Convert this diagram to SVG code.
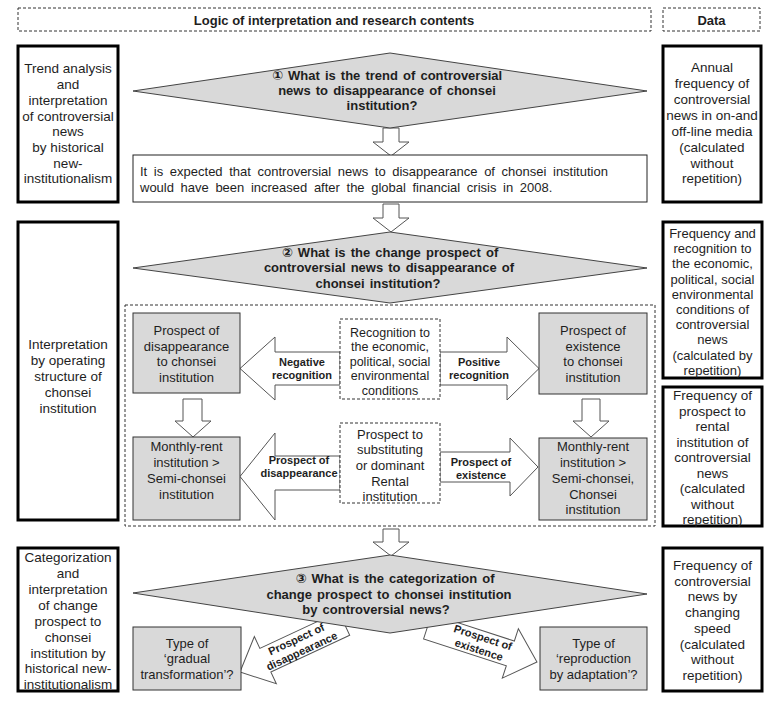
<svg xmlns="http://www.w3.org/2000/svg" width="770" height="702" viewBox="0 0 770 702">
<defs>
<style>
text{font-family:"Liberation Sans","DejaVu Sans",Arial,sans-serif;fill:#1e1e1e;text-anchor:middle}
.hd{font-size:13px;font-weight:bold}
.side{font-size:13.5px}
.side13{font-size:13px}
.box{font-size:13px}
.box2{font-size:12.5px}
.q{font-size:13px;font-weight:bold;word-spacing:1.5px}
.lbl{font-size:11px;font-weight:bold}
.thick{fill:#fff;stroke:#000;stroke-width:3}
.thin{fill:#fff;stroke:#222;stroke-width:1}
.gray{fill:#d9d9d9;stroke:#333;stroke-width:1}
.dash{fill:#fff;stroke:#333;stroke-width:1;stroke-dasharray:3 2}
.dashn{fill:none;stroke:#333;stroke-width:1;stroke-dasharray:3 2}
.dia{fill:#d9d9d9;stroke:#444;stroke-width:1}
.ba{fill:#fff;stroke:#555;stroke-width:1}
</style>
</defs>
<rect x="0" y="0" width="770" height="702" fill="#fff"/>

<g id="header-logic">
<rect class="dash" x="18" y="8" width="633" height="23"/>
<text class="hd" x="334" y="24.5">Logic of interpretation and research contents</text>
</g>
<g id="header-data">
<rect class="dash" x="663" y="8" width="97" height="23"/>
<text class="hd" x="711.5" y="24.5">Data</text>
</g>

<g id="left-1">
<rect class="thick" x="18" y="46" width="100" height="156"/>
<text class="side"><tspan x="68" y="73">Trend analysis</tspan><tspan x="68" y="89">and</tspan><tspan x="68" y="105">interpretation</tspan><tspan x="68" y="120.5">of controversial</tspan><tspan x="68" y="136">news</tspan><tspan x="68" y="152">by historical</tspan><tspan x="68" y="167.5">new-</tspan><tspan x="68" y="183">institutionalism</tspan></text>
</g>
<g id="left-2">
<rect class="thick" x="18" y="222" width="100" height="298"/>
<text class="side"><tspan x="68" y="349">Interpretation</tspan><tspan x="68" y="365">by operating</tspan><tspan x="68" y="381">structure of</tspan><tspan x="68" y="397">chonsei</tspan><tspan x="68" y="413">institution</tspan></text>
</g>
<g id="left-3">
<rect class="thick" x="18" y="548" width="100" height="143"/>
<text class="side"><tspan x="68" y="562">Categorization</tspan><tspan x="68" y="578">and</tspan><tspan x="68" y="594">interpretation</tspan><tspan x="68" y="610">of change</tspan><tspan x="68" y="626">prospect to</tspan><tspan x="68" y="642">chonsei</tspan><tspan x="68" y="657.5">institution by</tspan><tspan x="68" y="673">historical new-</tspan><tspan x="68" y="688.5">institutionalism</tspan></text>
</g>

<g id="right-1">
<rect class="thick" x="663" y="46" width="98" height="156"/>
<text class="side"><tspan x="712" y="72">Annual</tspan><tspan x="712" y="88">frequency of</tspan><tspan x="712" y="104">controversial</tspan><tspan x="712" y="120">news in on-and</tspan><tspan x="712" y="136">off-line media</tspan><tspan x="712" y="152">(calculated</tspan><tspan x="712" y="167.5">without</tspan><tspan x="712" y="183">repetition)</tspan></text>
</g>
<g id="right-2">
<rect class="thick" x="663" y="222" width="99" height="156"/>
<text class="side13"><tspan x="712.5" y="238">Frequency and</tspan><tspan x="712.5" y="253.2">recognition to</tspan><tspan x="712.5" y="268.4">the economic,</tspan><tspan x="712.5" y="283.6">political, social</tspan><tspan x="712.5" y="298.8">environmental</tspan><tspan x="712.5" y="314">conditions of</tspan><tspan x="712.5" y="329.2">controversial</tspan><tspan x="712.5" y="344.4">news</tspan><tspan x="712.5" y="359.6">(calculated by</tspan><tspan x="712.5" y="374.8">repetition)</tspan></text>
</g>
<g id="right-3">
<rect class="thick" x="663" y="387" width="99" height="139"/>
<text class="side"><tspan x="712.5" y="400">Frequency of</tspan><tspan x="712.5" y="415.5">prospect to</tspan><tspan x="712.5" y="431">rental</tspan><tspan x="712.5" y="446.5">institution of</tspan><tspan x="712.5" y="462">controversial</tspan><tspan x="712.5" y="477.5">news</tspan><tspan x="712.5" y="493">(calculated</tspan><tspan x="712.5" y="508.5">without</tspan><tspan x="712.5" y="524">repetition)</tspan></text>
</g>
<g id="right-4">
<rect class="thick" x="663" y="548" width="99" height="143"/>
<text class="side"><tspan x="712.5" y="570">Frequency of</tspan><tspan x="712.5" y="585.7">controversial</tspan><tspan x="712.5" y="601.4">news by</tspan><tspan x="712.5" y="617.1">changing</tspan><tspan x="712.5" y="632.8">speed</tspan><tspan x="712.5" y="648.5">(calculated</tspan><tspan x="712.5" y="664.2">without</tspan><tspan x="712.5" y="680">repetition)</tspan></text>
</g>

<g id="structure-frame">
<rect class="dashn" x="125" y="305" width="530" height="221"/>
</g>

<g id="connectors">
<path class="ba" d="M383,128 H399 V142 H409 L391,156 L373,142 H383 Z"/>
<path class="ba" d="M383,204 H399 V218 H409 L391,232 L373,218 H383 Z"/>
<path class="ba" d="M383,529 H399 V542 H409 L391,556 L373,542 H383 Z"/>
<path class="ba" d="M183,399 H202 V421 H211 L193,437 L175,421 H183 Z"/>
<path class="ba" d="M582,399 H600 V421 H609 L591,437 L573,421 H582 Z"/>
<path class="ba" d="M340,352 H275 V337 L240,368.5 L275,400 V385 H340 Z"/>
<path class="ba" d="M440,352 H507 V337 L539,368.5 L507,400 V385 H440 Z"/>
<path class="ba" d="M340,456 H275 V433 L240,476.5 L275,520 V490 H340 Z"/>
<path class="ba" d="M440,452 H510 V438 L538,467 L510,496 V482 H440 Z"/>
<path class="ba" transform="translate(344.2,623.4) rotate(155)" d="M0,-13 H87 V-26 L115,0 L87,26 V13 H0 Z"/>
<path class="ba" transform="translate(427.6,626.5) rotate(18)" d="M0,-13 H87 V-26 L115,0 L87,26 V13 H0 Z"/>
<text class="lbl"><tspan x="302" y="365.5">Negative</tspan><tspan x="302" y="378.5">recognition</tspan></text>
<text class="lbl"><tspan x="479" y="365.5">Positive</tspan><tspan x="479" y="378.5">recognition</tspan></text>
<text class="lbl"><tspan x="299" y="464">Prospect of</tspan><tspan x="299" y="477">disappearance</tspan></text>
<text class="lbl"><tspan x="481" y="465.5">Prospect of</tspan><tspan x="481" y="478.5">existence</tspan></text>
<text class="lbl" transform="translate(299,645) rotate(-25)"><tspan x="0" y="-2.5">Prospect of</tspan><tspan x="0" y="10.5">disappearance</tspan></text>
<text class="lbl" transform="translate(481,643.5) rotate(18)"><tspan x="0" y="-2.5">Prospect of</tspan><tspan x="0" y="10.5">existence</tspan></text>
</g>

<g id="question-1">
<polygon class="dia" points="133,91 390,53 647,91 390,128"/>
<text class="q"><tspan x="387" y="79.5">① What is the trend of controversial</tspan><tspan x="387" y="94.5">news to disappearance of chonsei</tspan><tspan x="382" y="109.5">institution?</tspan></text>
</g>
<g id="expectation">
<rect class="thin" x="133" y="155" width="514" height="47"/>
<text class="box" style="text-anchor:start;word-spacing:3px"><tspan x="140" y="176">It is expected that controversial news to disappearance of chonsei institution</tspan><tspan x="140" y="191.5">would have been increased after the global financial crisis in 2008.</tspan></text>
</g>
<g id="question-2">
<polygon class="dia" points="133,268 390,232 647,268 390,303"/>
<text class="q"><tspan x="390" y="256.5">② What is the change prospect of</tspan><tspan x="389" y="272">controversial news to disappearance of</tspan><tspan x="378" y="287.5">chonsei institution?</tspan></text>
</g>
<g id="prospect-disappearance">
<rect class="gray" x="133" y="313" width="107" height="80"/>
<text class="box"><tspan x="186.5" y="334.5">Prospect of</tspan><tspan x="186.5" y="350.5">disappearance</tspan><tspan x="186.5" y="366">to chonsei</tspan><tspan x="186.5" y="381.5">institution</tspan></text>
</g>
<g id="recognition">
<rect class="dash" x="340" y="319" width="100" height="80"/>
<text class="box2"><tspan x="390" y="336.5">Recognition to</tspan><tspan x="390" y="351">the economic,</tspan><tspan x="390" y="365.5">political, social</tspan><tspan x="390" y="380">environmental</tspan><tspan x="390" y="394.5">conditions</tspan></text>
</g>
<g id="prospect-existence">
<rect class="gray" x="539" y="313" width="108" height="81"/>
<text class="box"><tspan x="593" y="334.5">Prospect of</tspan><tspan x="593" y="350.5">existence</tspan><tspan x="593" y="366">to chonsei</tspan><tspan x="593" y="381.5">institution</tspan></text>
</g>
<g id="monthly-rent-left">
<rect class="gray" x="133" y="437" width="107" height="83"/>
<text class="box"><tspan x="186.5" y="451">Monthly-rent</tspan><tspan x="186.5" y="467">institution &gt;</tspan><tspan x="186.5" y="483">Semi-chonsei</tspan><tspan x="186.5" y="498.5">institution</tspan></text>
</g>
<g id="substituting">
<rect class="dash" x="340" y="423" width="100" height="80"/>
<text class="box"><tspan x="390" y="438.5">Prospect to</tspan><tspan x="390" y="454">substituting</tspan><tspan x="390" y="469.5">or dominant</tspan><tspan x="390" y="485.5">Rental</tspan><tspan x="390" y="501">institution</tspan></text>
</g>
<g id="monthly-rent-right">
<rect class="gray" x="539" y="438" width="108" height="82"/>
<text class="box"><tspan x="593" y="451">Monthly-rent</tspan><tspan x="593" y="467">institution &gt;</tspan><tspan x="593" y="483">Semi-chonsei,</tspan><tspan x="593" y="498.5">Chonsei</tspan><tspan x="593" y="514">institution</tspan></text>
</g>
<g id="question-3">
<polygon class="dia" points="133,593 390,555 647,594 390,633"/>
<text class="q"><tspan x="395" y="583">③ What is the categorization of</tspan><tspan x="389" y="598.5">change prospect to chonsei institution</tspan><tspan x="376" y="614">by controversial news?</tspan></text>
</g>
<g id="type-gradual">
<rect class="gray" x="133" y="627" width="108" height="63"/>
<text class="box"><tspan x="187" y="647.5">Type of</tspan><tspan x="187" y="663">‘gradual</tspan><tspan x="187" y="678.5">transformation’?</tspan></text>
</g>
<g id="type-reproduction">
<rect class="gray" x="540" y="627" width="107" height="63"/>
<text class="box"><tspan x="593.5" y="647.5">Type of</tspan><tspan x="593.5" y="663">‘reproduction</tspan><tspan x="593.5" y="678.5">by adaptation’?</tspan></text>
</g>
</svg>
